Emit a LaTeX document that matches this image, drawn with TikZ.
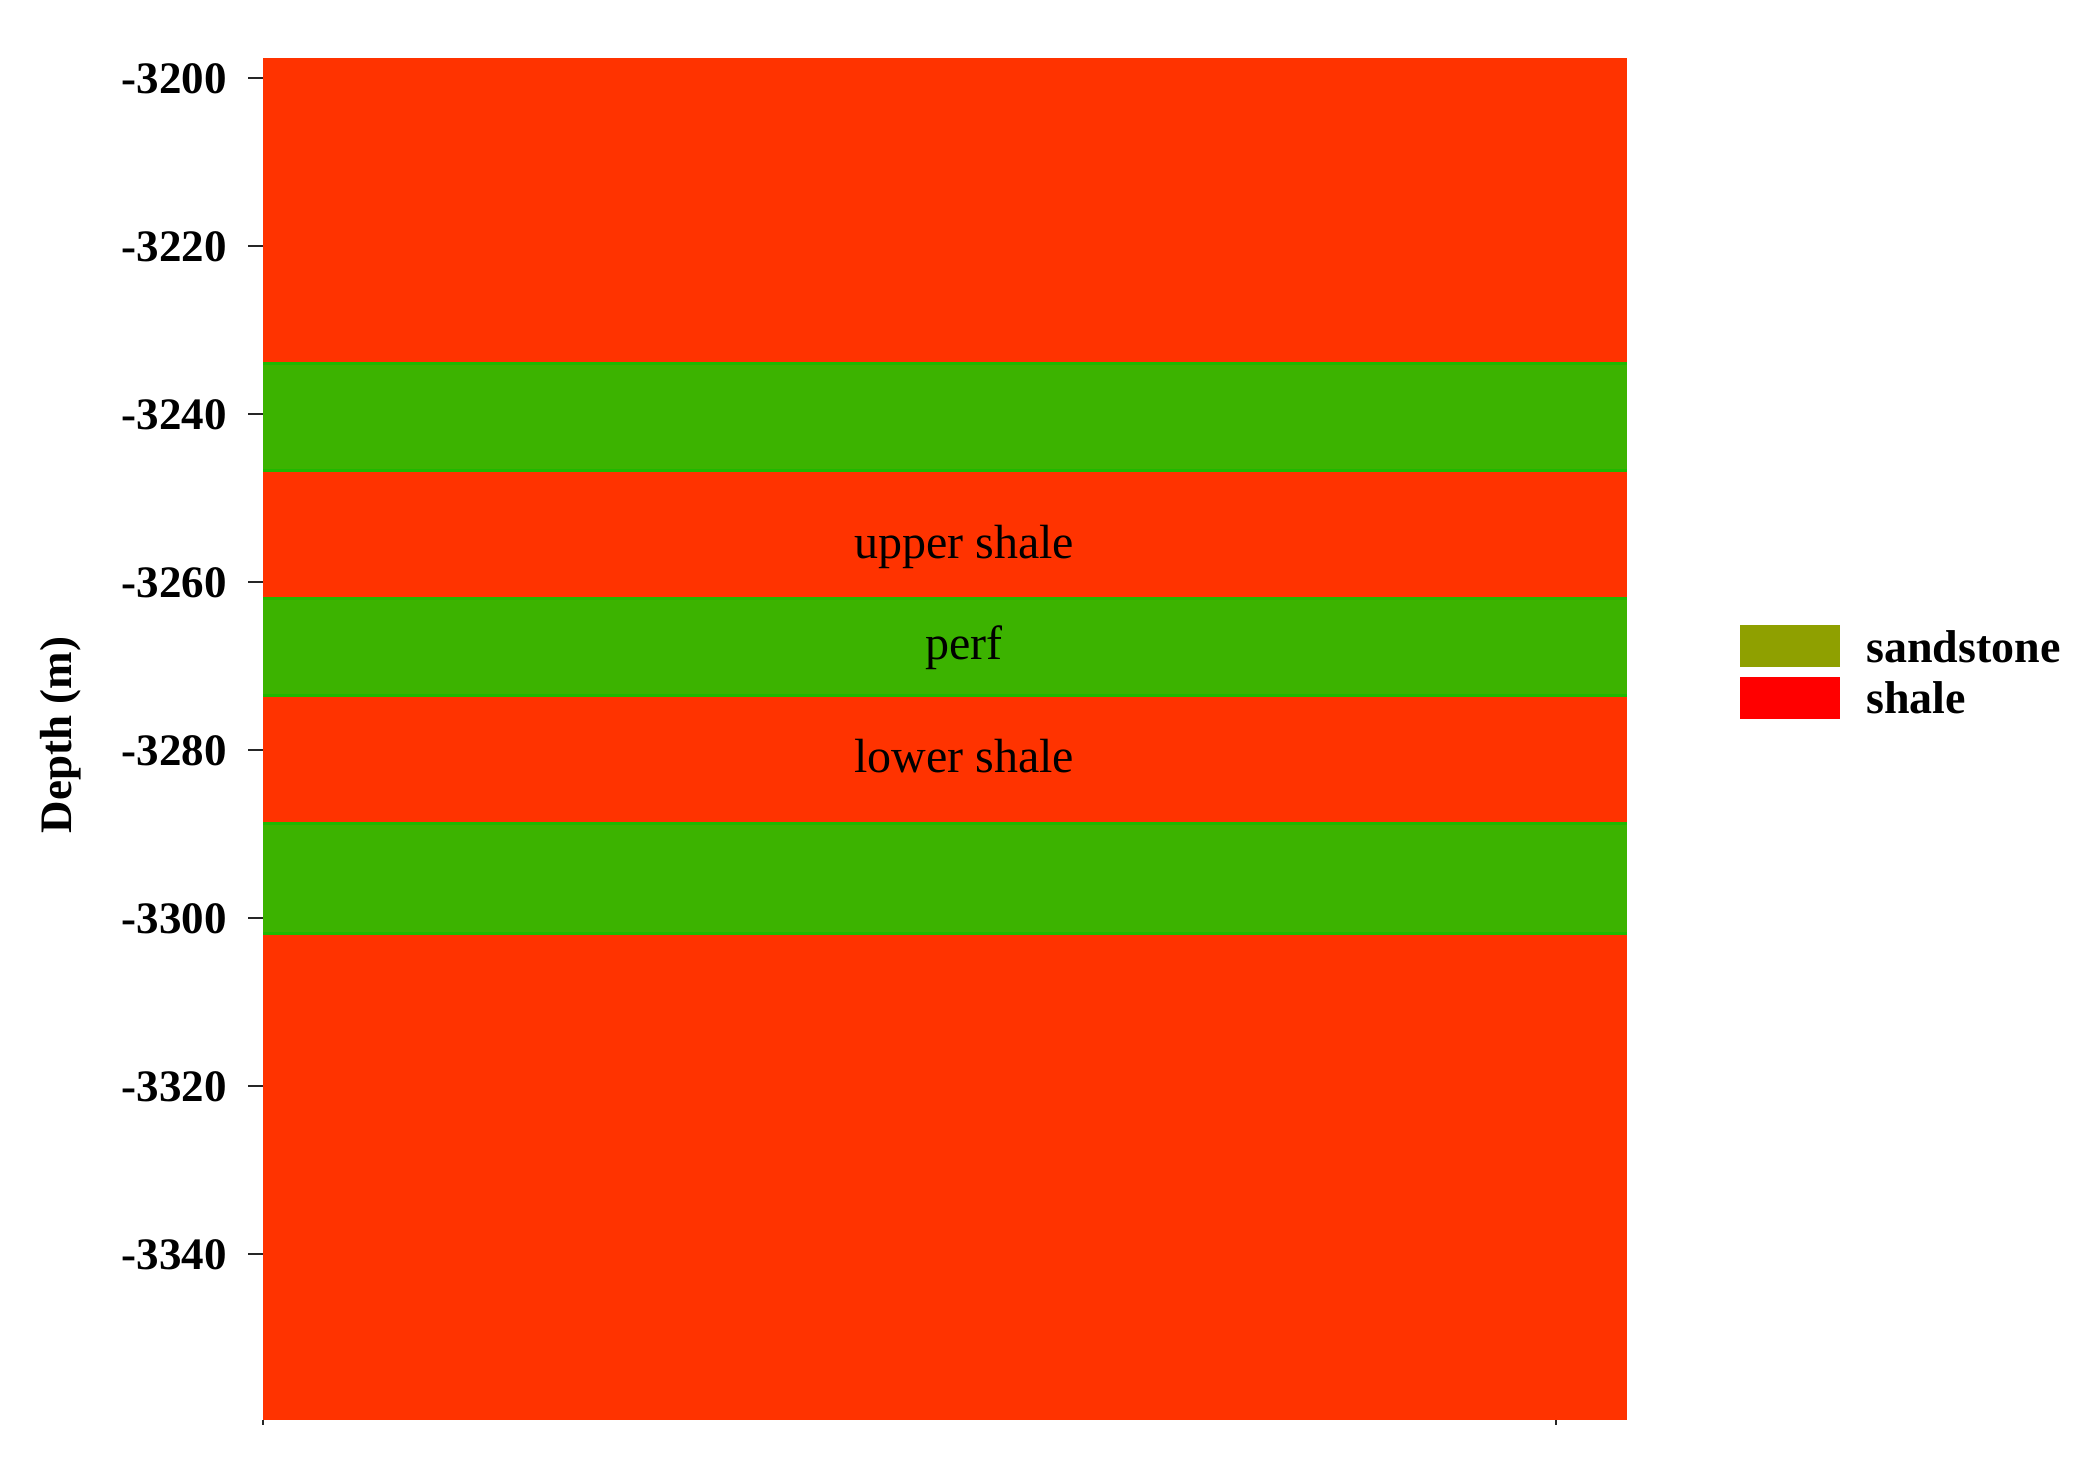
\documentclass[tikz,border=0pt]{standalone}
\usepackage{fontspec}
\setmainfont{Liberation Serif}
\definecolor{shalered}{HTML}{FF3300}
\definecolor{sandgreen}{HTML}{3CB300}
\definecolor{edgegreen}{HTML}{1FB800}
\definecolor{legsand}{HTML}{8FA000}
\definecolor{legshale}{HTML}{FF0000}
\begin{document}
\begin{tikzpicture}[x=0.5pt,y=-0.5pt,
  shalelayer/.style={fill=shalered},
  sandlayer/.style={fill=sandgreen},
  bandedge/.style={draw=edgegreen,line width=1.5pt},
  tickmark/.style={draw=black!85,line width=1.4pt},
  ticklabel/.style={anchor=base east,inner sep=0pt,font=\fontsize{22.5}{27}\selectfont\bfseries},
  layerlabel/.style={anchor=base,inner sep=0pt,font=\fontsize{24}{28}\selectfont},
  legbox/.style={minimum width=50pt,minimum height=21pt,inner sep=0pt,draw=none},
  legtext/.style={anchor=base west,inner sep=0pt,font=\fontsize{23}{27}\selectfont\bfseries}]
\useasboundingbox (0,0) rectangle (2086,1462);
% layers
\fill[shalelayer] (263,58) rectangle (1627,1420);
\fill[sandlayer] (263,362) rectangle (1627,472);
\fill[sandlayer] (263,597) rectangle (1627,697);
\fill[sandlayer] (263,822) rectangle (1627,935);
\foreach \ya/\yb in {362/472,597/697,822/935}{
  \draw[bandedge] (263,\ya+1.5) -- (1627,\ya+1.5);
  \draw[bandedge] (263,\yb-1.5) -- (1627,\yb-1.5);
}
% axis ticks
\foreach \d [count=\i from 0] in {3200,3220,3240,3260,3280,3300,3320,3340}{
  \draw[tickmark] (248,78+168*\i) -- (263,78+168*\i);
  \node[ticklabel] (tl\i) at (227,93+168*\i) {-\d};
}
\draw[tickmark] (263,1420) -- (263,1425);
\draw[tickmark] (1556,1420) -- (1556,1425);
\node[rotate=90,font=\fontsize{22.5}{27}\selectfont\bfseries,inner sep=0pt] (ylab) at (61,735) {Depth (m)};
% layer labels
\node[layerlabel] (upper) at (964,558) {upper shale};
\node[layerlabel] (perf) at (964,659) {perf};
\node[layerlabel] (lower) at (964,772) {lower shale};
% legend
\node[legbox,fill=legsand] (lsand) at (1790,646) {};
\node[legbox,fill=legshale] (lshale) at (1790,698) {};
\node[legtext] (tsand) at (1866,662) {sandstone};
\node[legtext] (tshale) at (1866,713) {shale};
\end{tikzpicture}
\end{document}
